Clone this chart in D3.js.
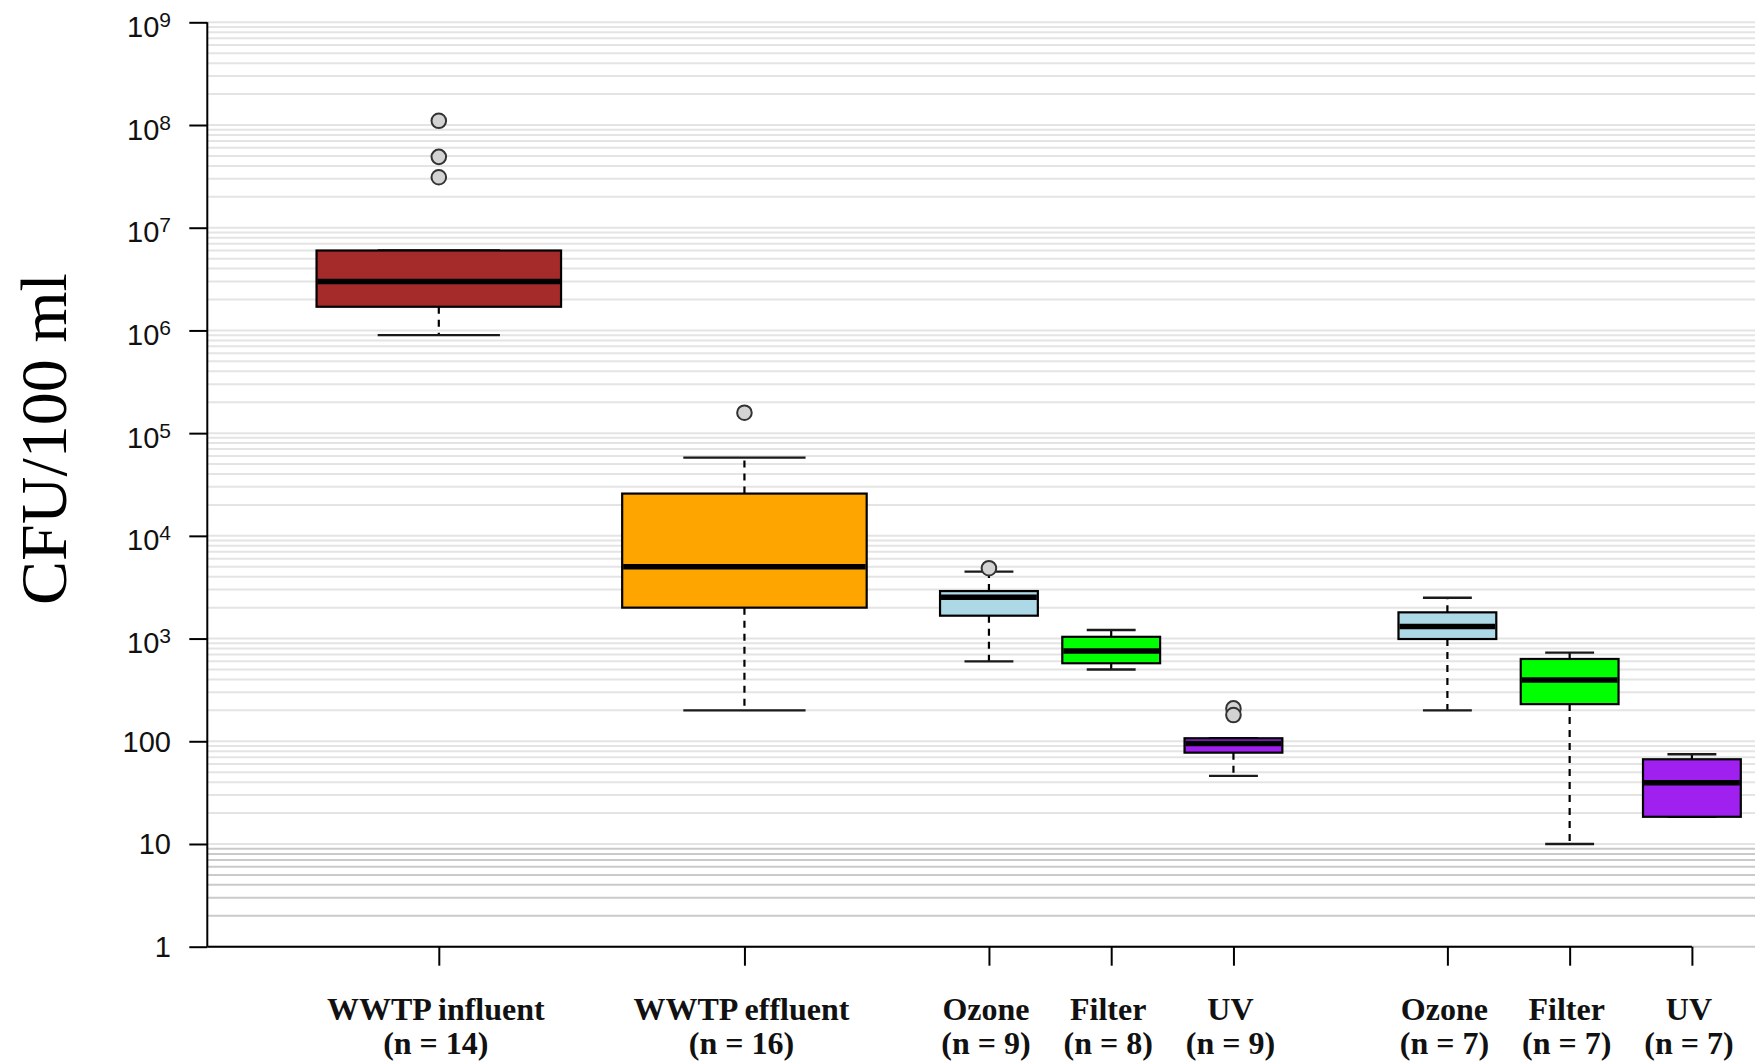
<!DOCTYPE html>
<html>
<head>
<meta charset="utf-8">
<script src="https://cdn.jsdelivr.net/npm/d3@7"></script>
<style>
  html, body { margin: 0; padding: 0; background: #fff; }
  svg { display: block; }
</style>
</head>
<body>
<svg id="chart" width="1755" height="1061"></svg>
<script>
// Bacterial counts per sampling point (CFU/100 ml), shown as box plots on a log scale.
const categories = ["WWTP influent", "WWTP effluent", "Ozone", "Filter", "UV", "Ozone", "Filter", "UV"];
const sampleCounts = [14, 16, 9, 8, 9, 7, 7, 7];
const slots = [0, 2.5, 4.5, 5.5, 6.5, 8.25, 9.25, 10.25];
const boxWidths = [2, 2, 0.8, 0.8, 0.8, 0.8, 0.8, 0.8];
const fills = ["#A52A2A", "#FFA500", "#ADD8E6", "#00FF00", "#A020F0", "#ADD8E6", "#00FF00", "#A020F0"];

const whiskerLow = [9.0e5, 200, 600, 500, 46, 200, 10, 18.4];
const quartile1 = [1.7e6, 2000, 1670, 575, 77.5, 990, 230, 18.4];
const medians = [3.0e6, 5000, 2520, 757, 95, 1310, 395, 39.5];
const quartile3 = [6.0e6, 25800, 2900, 1040, 107, 1800, 633, 66.8];
const whiskerHigh = [6.0e6, 57700, 4480, 1210, 107, 2500, 729, 74.7];
const outliers = [[1.1e8, 4.9e7, 3.1e7], [1.58e5], [4840], [], [209, 180], [], [], []];

const yTickValues = [1, 10, 100, 1e3, 1e4, 1e5, 1e6, 1e7, 1e8, 1e9];
const yTickExponents = [0, 1, 2, 3, 4, 5, 6, 7, 8, 9];
const yTitle = "CFU/100 ml";

const svg = d3.select("#chart");

const y = d3.scaleLog().domain([1, 1e9]).range([946.7, 22.3]);
const x = d3.scaleLinear().domain([0, 10.25]).range([438.8, 1691.9]);
const unit = x(1) - x(0);
const axisX = 207.3;
const rightEdge = 1755;

// Horizontal grid: every 1..9 multiple of each decade
const gridValues = [];
for (let e = 0; e < 9; e++) {
  for (let m = 1; m <= 9; m++) gridValues.push(m * Math.pow(10, e));
}
gridValues.push(1e9);

svg.append("g")
  .selectAll("line")
  .data(gridValues)
  .join("line")
  .attr("x1", axisX)
  .attr("x2", rightEdge)
  .attr("y1", d => y(d))
  .attr("y2", d => y(d))
  .attr("stroke", d => (d < 10 ? "#cacaca" : "#e4e4e4"))
  .attr("stroke-width", 2);

// Y axis
const yAxis = svg.append("g").attr("transform", `translate(${axisX},0)`);
yAxis.call(d3.axisLeft(y).tickValues(yTickValues).tickSize(18).tickFormat(""));
yAxis.select(".domain").attr("stroke", "#000").attr("stroke-width", 2).attr("d", `M0,${y(1)}V${y(1e9)}`);
yAxis.selectAll(".tick line").attr("stroke", "#000").attr("stroke-width", 2);

const tickLabels = svg.append("g")
  .attr("font-family", "'Liberation Sans', Arial, sans-serif")
  .attr("fill", "#111");
yTickValues.forEach((v, i) => {
  const e = yTickExponents[i];
  if (e < 3) {
    tickLabels.append("text")
      .attr("x", 171)
      .attr("y", y(v) + 10.5)
      .attr("text-anchor", "end")
      .attr("font-size", 29)
      .text(String(v));
  } else {
    const t = tickLabels.append("text")
      .attr("x", 171)
      .attr("y", y(v) + 14.5)
      .attr("text-anchor", "end")
      .attr("font-size", 29);
    t.append("tspan").text("10");
    t.append("tspan").attr("dy", -10).attr("font-size", 21).text(String(e));
  }
});

// X axis: line from first to last box with ticks
const xAxis = svg.append("g").attr("transform", `translate(0,${y(1)})`);
xAxis.call(d3.axisBottom(x).tickValues(slots).tickSize(19).tickFormat(""));
xAxis.select(".domain").attr("stroke", "#000").attr("stroke-width", 2)
  .attr("d", `M${axisX},0H${x(slots[slots.length - 1])}`);
xAxis.selectAll(".tick line").attr("stroke", "#000").attr("stroke-width", 2);

// Category labels
const catLabels = svg.append("g")
  .attr("font-family", "'Liberation Serif', 'Times New Roman', serif")
  .attr("font-weight", "bold")
  .attr("font-size", 32)
  .attr("fill", "#111")
  .attr("text-anchor", "middle");
categories.forEach((c, i) => {
  catLabels.append("text").attr("x", x(slots[i]) - 3).attr("y", 1020).text(c);
  catLabels.append("text").attr("x", x(slots[i]) - 3).attr("y", 1054).text(`(n = ${sampleCounts[i]})`);
});

// Y title
svg.append("text")
  .attr("transform", `translate(66,439) rotate(-90)`)
  .attr("text-anchor", "middle")
  .attr("font-family", "'Liberation Serif', 'Times New Roman', serif")
  .attr("font-size", 66)
  .attr("fill", "#000")
  .text(yTitle);

// Box plots
const boxes = svg.append("g");
categories.forEach((c, i) => {
  const cx = x(slots[i]);
  const w = boxWidths[i] * unit;
  const g = boxes.append("g");
  // dashed whiskers
  g.append("line")
    .attr("x1", cx).attr("x2", cx)
    .attr("y1", y(quartile3[i])).attr("y2", y(whiskerHigh[i]))
    .attr("stroke", "#000").attr("stroke-width", 2.2).attr("stroke-dasharray", "7,6");
  g.append("line")
    .attr("x1", cx).attr("x2", cx)
    .attr("y1", y(quartile1[i])).attr("y2", y(whiskerLow[i]))
    .attr("stroke", "#000").attr("stroke-width", 2.2).attr("stroke-dasharray", "7,6");
  // staples
  [whiskerHigh[i], whiskerLow[i]].forEach(v => {
    g.append("line")
      .attr("x1", cx - w / 4).attr("x2", cx + w / 4)
      .attr("y1", y(v)).attr("y2", y(v))
      .attr("stroke", "#1a1a1a").attr("stroke-width", 2.4);
  });
  // box
  g.append("rect")
    .attr("x", cx - w / 2)
    .attr("y", y(quartile3[i]))
    .attr("width", w)
    .attr("height", y(quartile1[i]) - y(quartile3[i]))
    .attr("fill", fills[i])
    .attr("stroke", "#000")
    .attr("stroke-width", 2.2);
  // median
  g.append("line")
    .attr("x1", cx - w / 2 + 1).attr("x2", cx + w / 2 - 1)
    .attr("y1", y(medians[i])).attr("y2", y(medians[i]))
    .attr("stroke", "#000").attr("stroke-width", 5.5);
  // outliers
  g.selectAll("circle")
    .data(outliers[i])
    .join("circle")
    .attr("cx", cx)
    .attr("cy", d => y(d))
    .attr("r", 7.3)
    .attr("fill", "#d3d3d3")
    .attr("stroke", "#333")
    .attr("stroke-width", 2);
});
</script>
</body>
</html>
